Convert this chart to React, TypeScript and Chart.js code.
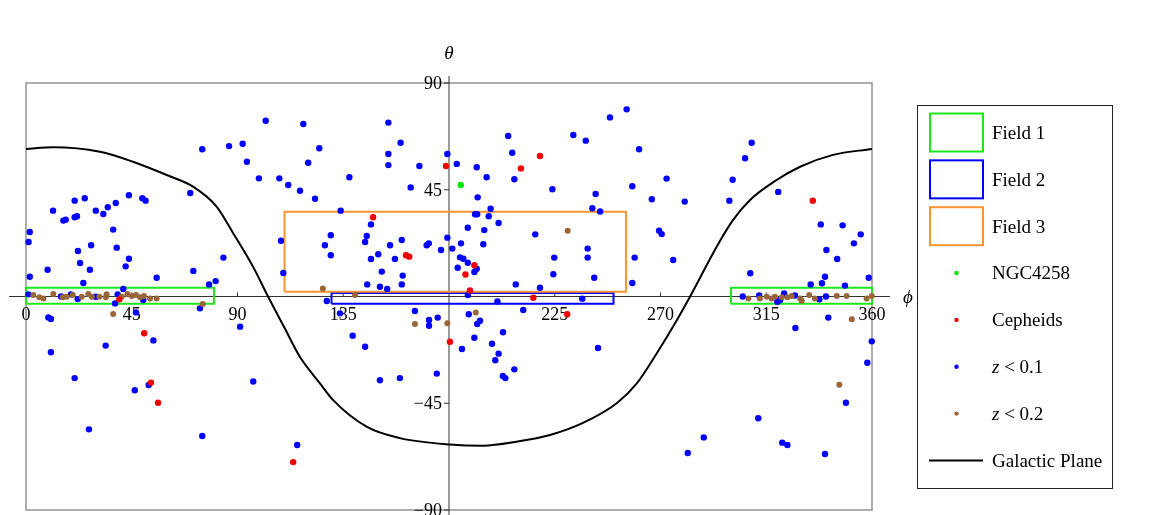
import React, { useEffect, useRef } from "react";
import { Chart, registerables } from "chart.js";
Chart.register(...registerables);

const W = 1159;
const H = 515;

const phiTicks = [0, 45, 90, 135, 180, 225, 270, 315, 360];
const thetaTicks = [-90, -45, 0, 45, 90];
const originPhi = 180;
const originTheta = 0;

const legendLabels = ["Field 1", "Field 2", "Field 3", "NGC4258", "Cepheids", "z < 0.1", "z < 0.2", "Galactic Plane"];

const galacticPlane: number[][] = [
  [0, 62.2], [11.6, 62.9], [31.5, 61.0], [45.5, 56.8], [59.9, 51.2], [71.1, 46.3], [81.1, 37.9], [88.1, 26.8],
  [96.6, 12.6], [103, 0], [110, -13.2], [116.6, -25.5], [125, -36.5], [130.6, -43.6], [145.1, -55.0], [159.1, -59.7],
  [180.4, -62.4], [194.5, -62.9], [208.9, -61.2], [223, -58.4], [237, -53.3], [251.5, -44.9], [260, -36.5],
  [268.5, -23.8], [277, -9.9], [282.6, 0], [293.9, 21.0], [300.9, 32.3], [308.1, 40.7], [319.4, 49.1],
  [329.4, 54.7], [343.4, 59.7], [360, 62.2],
];

const ngc4258: number[][] = [[185.0, 47.0]];

const cepheids: number[][] = [
  [39.7, -1.2], [50.3, -15.5], [53.2, -36.3], [56.2, -44.8], [113.7, -69.8], [180.4, -19.1], [187.0, 9.3],
  [188.9, 2.5], [178.7, 55.0], [218.7, 59.2], [210.6, 54.0], [147.7, 33.4], [161.7, 17.4], [163.1, 16.8],
  [190.8, 13.2], [215.9, -0.5], [230.3, -7.5], [334.8, 40.4],
];

const zBelow01: number[][] = [
  [102.0, 74.1], [75.0, 62.1], [86.4, 63.4], [92.2, 64.4], [94.0, 56.8], [99.1, 49.8], [107.8, 49.8], [111.6, 47.0], [116.6, 44.6], [69.9, 43.6],
  [20.7, 40.4], [25.0, 41.4], [11.5, 36.2], [15.9, 32.0], [16.9, 32.4], [20.7, 33.4], [21.7, 33.8], [29.7, 36.2], [32.9, 34.8], [34.8, 37.6],
  [38.2, 39.4], [43.8, 42.7], [49.5, 41.4], [50.9, 40.4], [1.6, 27.2], [1.1, 23.0], [37.1, 28.2], [22.1, 19.2], [27.7, 21.6], [38.6, 20.6],
  [43.8, 15.9], [23.0, 14.1], [9.2, 11.3], [27.2, 11.3], [42.4, 12.7], [1.6, 8.3], [24.4, 5.7], [55.6, 7.9], [71.2, 10.8], [84.0, 16.4],
  [77.9, 5.1], [80.7, 6.5], [108.5, 23.5], [109.5, 9.9], [41.4, 3.2], [1.0, 0.9], [14.9, 0.0], [19.1, 0.9], [22.0, -1.1], [29.7, -0.1],
  [39.0, 0.9], [49.9, -1.5], [9.5, -8.8], [10.6, -9.5], [10.6, -23.5], [33.9, -20.7], [54.2, -18.5], [20.7, -34.4], [46.3, -39.5], [52.2, -37.3],
  [26.8, -56.0], [75.0, -58.8], [91.1, -12.7], [96.7, -35.8], [115.4, -62.6], [139.0, -16.5], [144.3, -21.2], [150.6, -35.3], [159.1, -34.4], [165.5, -6.1],
  [171.5, -9.9], [171.5, -12.3], [175.2, -8.9], [174.8, -32.5], [74.0, -5.0], [133.6, -7.1], [128.0, -1.9], [37.9, -2.9], [46.8, -6.7],
  [151.4, 10.5], [160.3, 8.8], [145.2, 5.1], [150.6, 4.1], [153.7, 3.2], [159.9, 5.1],
  [188.4, -7.5], [192.0, -11.6], [193.2, -10.2], [188.0, 0.6],
  [118.0, 72.7], [154.2, 73.3], [124.8, 62.5], [159.4, 64.8], [120.1, 56.4], [154.2, 60.1], [154.2, 55.4], [167.4, 55.0], [179.3, 60.1], [183.3, 55.9],
  [123.0, 41.2], [137.6, 50.3], [163.7, 46.0], [191.8, 54.5], [196.0, 50.3], [205.2, 67.7], [206.9, 60.6], [207.8, 49.4], [232.9, 68.1], [238.2, 65.7],
  [248.5, 75.5], [255.6, 78.9], [260.9, 62.1], [258.0, 46.5], [224.0, 45.2], [242.4, 43.2], [266.3, 41.0], [192.2, 41.8], [241.0, 37.2], [244.3, 35.8],
  [197.7, 37.0], [191.1, 34.7], [192.0, 34.7], [196.9, 33.8], [201.1, 31.0], [133.9, 36.2], [146.8, 30.4], [145.0, 25.5], [144.3, 23.0], [129.7, 25.8],
  [127.2, 21.6], [129.7, 17.4], [154.9, 21.6], [159.9, 23.8], [149.9, 17.8], [146.8, 15.8], [157.0, 15.8], [170.5, 21.6], [171.4, 22.4], [176.6, 19.6],
  [179.3, 24.8], [181.4, 20.2], [185.1, 22.4], [188.0, 29.0], [195.0, 28.0], [194.6, 22.0], [216.7, 26.2], [184.7, 16.5], [186.1, 15.9], [188.0, 14.2],
  [183.7, 12.1], [191.8, 11.7], [190.8, 10.3], [224.8, 16.4], [239.0, 20.2], [239.0, 16.4], [259.0, 16.4], [269.4, 27.7], [224.4, 9.4], [241.8, 7.9],
  [258.0, 5.7], [208.4, 5.1], [218.7, 3.7], [236.7, -0.9], [200.6, -2.1], [211.6, -5.7],
  [190.8, -17.4], [185.5, -22.1], [198.3, -19.9], [201.1, -24.1], [203.0, -15.1], [199.7, -26.9], [207.8, -30.7], [202.9, -33.5], [204.0, -34.4], [243.4, -21.7],
  [281.6, -66.0], [288.4, -59.4], [311.6, -51.3], [321.8, -61.6], [324.0, -62.6], [340.0, -66.4], [348.9, -44.8], [358.0, -27.9], [359.9, -18.9], [327.4, -13.3], [341.4, -8.9],
  [308.8, 64.8], [306.0, 58.3], [272.6, 49.7], [300.7, 49.2], [280.3, 40.0], [299.3, 40.4], [320.1, 44.1], [270.5, 26.3], [275.4, 15.4], [308.2, 9.8],
  [338.2, 30.4], [347.5, 30.0], [355.2, 26.2], [352.3, 22.4], [340.6, 19.6], [345.2, 15.8], [340.0, 8.3], [333.9, 5.1], [338.7, 5.6], [348.5, 4.6], [358.6, 7.9],
  [305.0, 0.0], [312.0, 0.4], [319.7, -2.2], [320.9, -1.5], [322.6, 1.3], [327.2, 0.4], [337.6, -1.2], [340.4, 0.0],
];

const zBelow02: number[][] = [
  [3.1, 0.6], [5.7, -0.3], [7.4, -0.8], [11.6, 1.1], [15.6, -0.3], [17.3, -0.1], [19.9, 0.6], [23.7, -0.1], [26.5, 1.1], [28.0, -0.1],
  [31.2, -0.1], [34.0, -0.3], [34.3, 0.9], [40.7, -0.1], [43.1, 1.1], [45.0, 0.2], [46.8, 0.6], [48.5, -0.3], [50.2, 0.2], [52.8, -0.8],
  [55.6, -0.8], [75.2, -3.2], [37.1, -7.4], [126.3, 3.4], [140.0, 0.6], [165.5, -11.6], [179.3, -11.3], [191.4, -6.7], [230.5, 27.7],
  [307.4, -0.8], [312.3, -0.8], [315.2, -0.1], [317.3, -0.8], [318.7, -0.1], [321.6, -0.3], [324.0, -0.3], [325.8, 0.2], [329.4, -0.8],
  [330.1, -1.8], [333.3, 0.6], [335.7, -0.8], [345.0, 0.2], [349.2, 0.2], [357.7, -0.8], [359.9, 0.2], [351.4, -9.6], [346.1, -37.2],
];

const field1PhiRanges: number[][] = [[0, 80], [300, 360]];
const field1Theta = [-3.1, 3.7];
const field2Phi = [130, 250];
const field2Theta = [-3.1, 1.5];
const field3Phi = [110, 255.3];
const field3Theta = [2.0, 35.7];

const GREEN = "#1ee61e";
const BLUE = "#0000ff";
const ORANGE = "#fb9433";
const RED = "#f00000";
const BROWN = "#99663a";
const DOT_GREEN = "#00e600";

const SERIF = '"Liberation Serif", "DejaVu Serif", serif';

function rectLoop(phi: number[], theta: number[]) {
  return [
    { x: phi[0], y: theta[0] },
    { x: phi[1], y: theta[0] },
    { x: phi[1], y: theta[1] },
    { x: phi[0], y: theta[1] },
    { x: phi[0], y: theta[0] },
  ];
}

const toXY = (arr: number[][]) => arr.map(([x, y]) => ({ x, y }));

const axesPlugin = {
  id: "mmaAxes",
  beforeDatasetsDraw(chart: any) {
    const { ctx, chartArea: a, scales } = chart;
    const xs = scales.x;
    const ys = scales.y;
    ctx.save();
    // frame
    ctx.strokeStyle = "#9a9a9a";
    ctx.lineWidth = 1.6;
    ctx.strokeRect(a.left, a.top, a.right - a.left, a.bottom - a.top);
    // axes
    const x0 = xs.getPixelForValue(originPhi);
    const y0 = ys.getPixelForValue(originTheta);
    ctx.strokeStyle = "#333";
    ctx.lineWidth = 1;
    ctx.beginPath();
    ctx.moveTo(a.left - 17, y0);
    ctx.lineTo(a.right + 18, y0);
    ctx.moveTo(x0, a.top - 7);
    ctx.lineTo(x0, H);
    ctx.stroke();
    // ticks + labels
    ctx.fillStyle = "#000";
    ctx.font = "18px " + SERIF;
    ctx.textBaseline = "alphabetic";
    ctx.textAlign = "center";
    phiTicks.forEach((v) => {
      if (v === originPhi) return;
      const px = xs.getPixelForValue(v);
      ctx.beginPath();
      ctx.moveTo(px, y0);
      ctx.lineTo(px, y0 - 4);
      ctx.stroke();
      ctx.fillText(String(v), px, y0 + 23);
    });
    ctx.textAlign = "right";
    thetaTicks.forEach((v) => {
      if (v === originTheta) return;
      const py = ys.getPixelForValue(v);
      ctx.beginPath();
      ctx.moveTo(x0, py);
      ctx.lineTo(x0 - 5, py);
      ctx.stroke();
      const txt = v < 0 ? "\u2212" + String(-v) : String(v);
      ctx.fillText(txt, x0 - 7, py + 6);
    });
    // axis titles
    ctx.font = "italic 19px " + SERIF;
    ctx.textAlign = "center";
    ctx.fillText("\u03B8", x0, a.top - 24);
    ctx.fillText("\u03D5", a.right + 36, y0 + 6);
    ctx.restore();
  },
};

const legendPlugin = {
  id: "sideLegend",
  afterDraw(chart: any) {
    const ctx = chart.ctx;
    ctx.save();
    ctx.strokeStyle = "#222";
    ctx.lineWidth = 1;
    ctx.strokeRect(917.5, 105.5, 195, 383);
    const kinds = [
      { kind: "rect", color: GREEN },
      { kind: "rect", color: BLUE },
      { kind: "rect", color: ORANGE },
      { kind: "dot", color: DOT_GREEN },
      { kind: "dot", color: RED },
      { kind: "dot", color: BLUE },
      { kind: "dot", color: BROWN },
      { kind: "line", color: "#000" },
    ];
    legendLabels.forEach((label, i) => {
      const cy = 132.5 + i * 46.85;
      const k = kinds[i];
      if (k.kind === "rect") {
        ctx.strokeStyle = k.color;
        ctx.lineWidth = 2;
        ctx.strokeRect(930, cy - 19, 53, 38);
      } else if (k.kind === "dot") {
        ctx.fillStyle = k.color;
        ctx.beginPath();
        ctx.arc(956.5, cy, 2.2, 0, Math.PI * 2);
        ctx.fill();
      } else {
        ctx.strokeStyle = k.color;
        ctx.lineWidth = 2;
        ctx.beginPath();
        ctx.moveTo(929, cy);
        ctx.lineTo(983, cy);
        ctx.stroke();
      }
      ctx.fillStyle = "#000";
      ctx.textAlign = "left";
      ctx.textBaseline = "alphabetic";
      const base = cy + 6.3;
      if (label.startsWith("z ")) {
        ctx.font = "italic 19px " + SERIF;
        ctx.fillText("z", 992, base);
        const w = ctx.measureText("z").width;
        ctx.font = "19px " + SERIF;
        ctx.fillText(label.slice(1), 992 + w, base);
      } else {
        ctx.font = "19px " + SERIF;
        ctx.fillText(label, 992, base);
      }
    });
    ctx.restore();
  },
};

export default function App() {
  const ref = useRef<HTMLCanvasElement | null>(null);
  useEffect(() => {
    if (!ref.current) return;
    const pointDs = (label: string, data: number[][], color: string, order: number, r = 3.2) => ({
      type: "scatter" as const,
      label,
      data: toXY(data),
      backgroundColor: color,
      borderColor: color,
      pointRadius: r,
      pointBorderWidth: 0,
      pointHoverRadius: r,
      clip: false,
      order,
    });
    const rectDs = (label: string, phi: number[], theta: number[], color: string, order: number) => ({
      type: "line" as const,
      label,
      data: rectLoop(phi, theta),
      borderColor: color,
      borderWidth: 2,
      pointRadius: 0,
      tension: 0,
      fill: false,
      clip: false,
      order,
    });
    const chart = new Chart(ref.current, {
      type: "scatter",
      data: {
        datasets: [
          {
            type: "line",
            label: legendLabels[7],
            data: toXY(galacticPlane),
            borderColor: "#000",
            borderWidth: 2,
            pointRadius: 0,
            tension: 0.4,
            cubicInterpolationMode: "monotone",
            fill: false,
            order: 20,
          } as any,
          rectDs(legendLabels[0], field1PhiRanges[0], field1Theta, GREEN, 12),
          rectDs(legendLabels[0], field1PhiRanges[1], field1Theta, GREEN, 12),
          rectDs(legendLabels[1], field2Phi, field2Theta, BLUE, 13),
          rectDs(legendLabels[2], field3Phi, field3Theta, ORANGE, 11),
          pointDs(legendLabels[5], zBelow01, BLUE, 8),
          pointDs(legendLabels[6], zBelow02, BROWN, 7, 3.0),
          pointDs(legendLabels[4], cepheids, RED, 3),
          pointDs(legendLabels[3], ngc4258, DOT_GREEN, 1),
        ] as any,
      },
      options: {
        animation: false,
        responsive: false,
        events: [],
        layout: { padding: { left: 26, right: W - 872, top: 83, bottom: H - 510 } },
        scales: {
          x: { type: "linear", min: 0, max: 360, display: false },
          y: { type: "linear", min: -90, max: 90, display: false },
        },
        plugins: { legend: { display: false }, tooltip: { enabled: false } },
      },
      plugins: [axesPlugin, legendPlugin],
    });
    return () => chart.destroy();
  }, []);
  return (
    <div style={{ position: "fixed", left: 0, top: 0, width: W, height: H, background: "#fff" }}>
      <canvas ref={ref} width={W} height={H} style={{ display: "block" }} />
    </div>
  );
}
